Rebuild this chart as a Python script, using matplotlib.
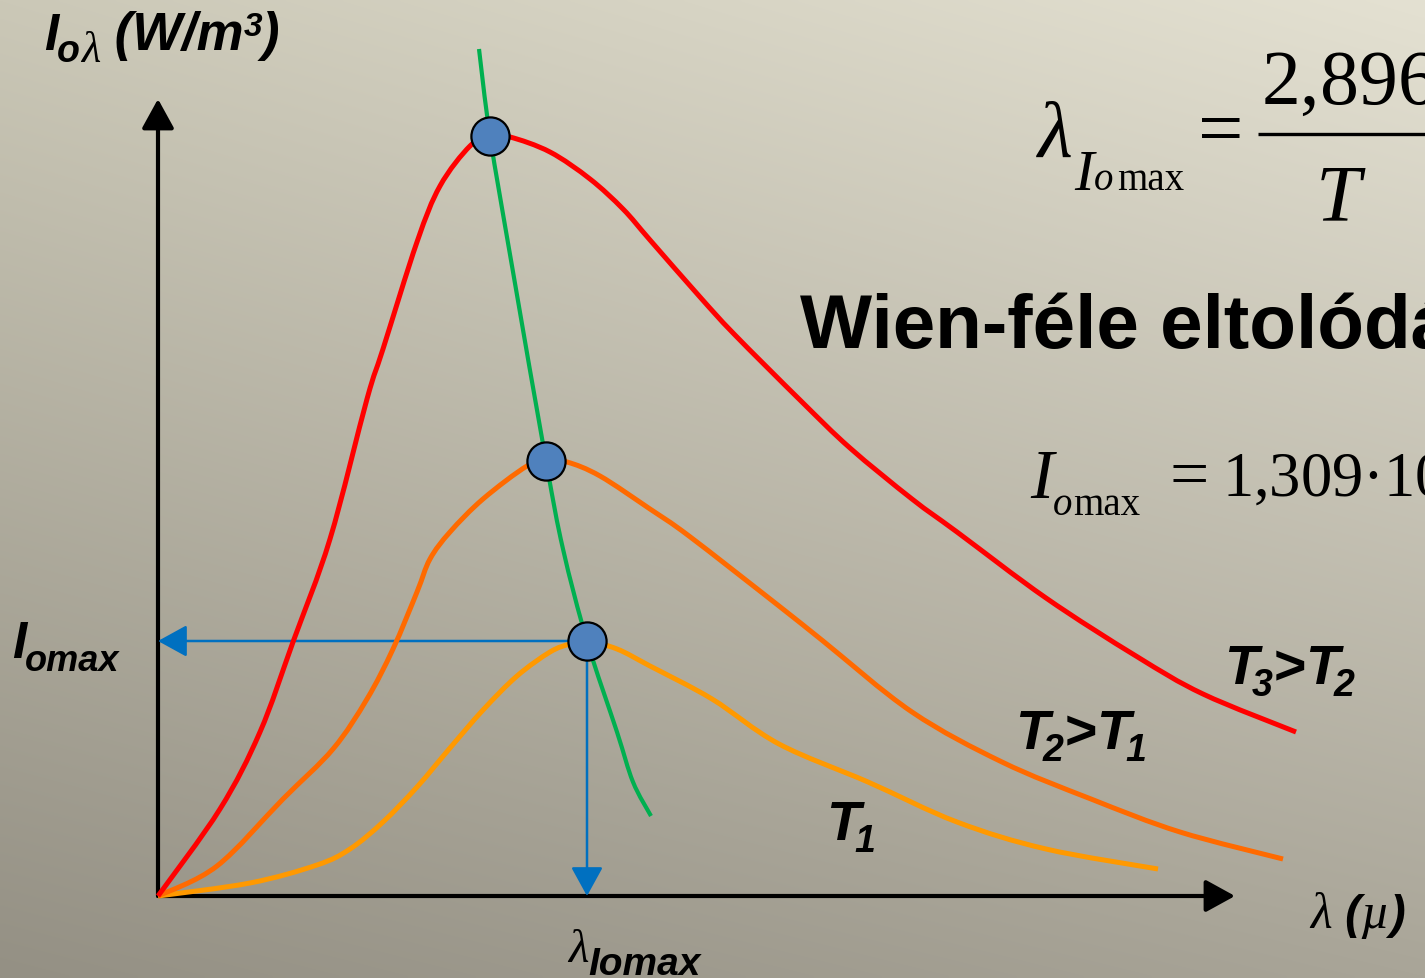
import numpy as np
import matplotlib
matplotlib.use("Agg")
import matplotlib.pyplot as plt
from matplotlib.path import Path
from matplotlib.patches import PathPatch

# ---- spectral curves (wavelength, intensity), arbitrary units ----
t3_lam = [0.00, 0.62, 1.02, 1.35, 1.72, 2.09, 2.25, 2.59, 2.82, 3.12, 3.32, 3.52, 3.92,
          4.32, 4.65, 4.92, 5.42, 5.76, 6.43, 6.92, 7.54, 7.99, 8.88, 9.78, 10.45, 11.38]
t3_int = [0.00, 0.87, 1.64, 2.54, 3.57, 4.97, 5.47, 6.54, 7.10, 7.50, 7.60, 7.59, 7.44,
          7.17, 6.87, 6.56, 5.99, 5.62, 4.95, 4.48, 3.97, 3.64, 2.98, 2.40, 2.02, 1.64]

t2_lam = [0.00, 0.59, 1.25, 1.75, 2.09, 2.35, 2.59, 2.72, 2.92, 3.25, 3.69, 3.89, 4.09,
          4.42, 4.92, 5.31, 6.21, 6.65, 7.54, 8.44, 9.33, 10.22, 11.25]
t2_int = [0.00, 0.30, 0.97, 1.47, 1.97, 2.47, 3.04, 3.37, 3.64, 3.97, 4.30, 4.35, 4.34,
          4.20, 3.87, 3.60, 2.90, 2.55, 1.84, 1.34, 0.97, 0.64, 0.37]

t1_lam = [0.00, 0.92, 1.59, 1.92, 2.25, 2.59, 2.92, 3.25, 3.59, 3.92, 4.12, 4.29, 4.59,
          4.92, 5.54, 6.21, 7.10, 7.99, 8.88, 10.00]
t1_int = [0.00, 0.13, 0.31, 0.47, 0.74, 1.09, 1.48, 1.86, 2.20, 2.44, 2.52, 2.55, 2.47,
          2.30, 1.97, 1.52, 1.14, 0.74, 0.47, 0.27]

# Wien displacement locus through the maxima
wien_lam = [3.21, 3.32, 3.54, 3.88, 4.05, 4.29, 4.59, 4.75, 4.93]
wien_int = [8.47, 7.60, 6.30, 4.35, 3.47, 2.55, 1.64, 1.14, 0.80]

# maxima of the three curves
peak_lam = [3.32, 3.88, 4.29]
peak_int = [7.60, 4.35, 2.55]

W, H = 1425, 979
fig = plt.figure(figsize=(W / 100, H / 100), dpi=100)

# background layer in pixel units
bg = fig.add_axes([0, 0, 1, 1])
bg.set_xlim(0, W)
bg.set_ylim(H, 0)
bg.axis("off")

gx, gy = np.meshgrid(np.linspace(0, 1, 300), np.linspace(0, 1, 220))
tl = np.array([0xCB, 0xC8, 0xB7]) / 255
tr = np.array([0xE4, 0xE1, 0xD2]) / 255
bl = np.array([0x94, 0x90, 0x84]) / 255
br = np.array([0xA9, 0xA5, 0x98]) / 255
grad = ((1 - gx)[..., None] * (1 - gy)[..., None] * tl + gx[..., None] * (1 - gy)[..., None] * tr
        + (1 - gx)[..., None] * gy[..., None] * bl + gx[..., None] * gy[..., None] * br)
bg.imshow(grad, extent=(0, W, H, 0), aspect="auto", interpolation="bilinear", zorder=0)

# chart layer in data units
ax = fig.add_axes([0, 0, 1, 1])
ax.set_xlim(-1.58, 12.67)
ax.set_ylim(-0.82, 8.97)
ax.axis("off")
ax.patch.set_alpha(0)


def smooth(x, y):
    """Smooth Bezier path through the given points (Catmull-Rom style tangents)."""
    p = np.column_stack([x, y]).astype(float)
    ext = np.vstack([p[0], p, p[-1]])
    verts = [p[0]]
    codes = [Path.MOVETO]
    for i in range(len(p) - 1):
        p0, p1, p2, p3 = ext[i], ext[i + 1], ext[i + 2], ext[i + 3]
        c1 = p1 + (p2 - p0) / 6.0
        c2 = p2 - (p3 - p1) / 6.0
        verts += [c1, c2, p2]
        codes += [Path.CURVE4] * 3
    return Path(verts, codes)


def curve(x, y, color, lw, z):
    ax.add_patch(PathPatch(smooth(x, y), fill=False, edgecolor=color, lw=lw,
                           capstyle="butt", joinstyle="round", zorder=z))


# axes with arrow heads
axis_kw = dict(arrowstyle="-|>,head_length=0.4,head_width=0.22", color="black", lw=3,
               shrinkA=0, shrinkB=0, mutation_scale=45)
ax.annotate("", xy=(0, 7.97), xytext=(0, 0), arrowprops=axis_kw, zorder=3)
ax.annotate("", xy=(10.77, 0), xytext=(0, 0), arrowprops=axis_kw, zorder=3)

# guide arrows from the lowest maximum
guide_kw = dict(arrowstyle="-|>,head_length=0.4,head_width=0.22", color="#0070C0", lw=1.8,
                shrinkA=0, shrinkB=0, mutation_scale=45)
ax.annotate("", xy=(0, peak_int[2]), xytext=(peak_lam[2], peak_int[2]), arrowprops=guide_kw, zorder=4)
ax.annotate("", xy=(peak_lam[2], 0), xytext=(peak_lam[2], peak_int[2]), arrowprops=guide_kw, zorder=4)

curve(t1_lam, t1_int, "#FF9900", 3.6, 5)
curve(t2_lam, t2_int, "#FF6A00", 3.6, 5)
curve(t3_lam, t3_int, "#FF0000", 3.6, 5)
curve(wien_lam, wien_int, "#00B050", 3.0, 6)

ax.plot(peak_lam, peak_int, "o", ms=27.5, mfc="#4F81BD", mec="black", mew=1.6, zorder=7)

# ---- text ----
SANS = "Liberation Sans"
SERIF = "Liberation Serif"
renderer = fig.canvas.get_renderer()


def chain(x, y, pieces):
    for s, kw, dx, dy in pieces:
        t = bg.text(x + dx, y + dy, s, ha="left", va="baseline", **kw)
        x = x + dx + t.get_window_extent(renderer).width
    return x


def sbi(size):
    return dict(family=SANS, weight="bold", style="italic", fontsize=size)


def ser(size, style="normal"):
    return dict(family=SERIF, style=style, fontsize=size)


# y-axis label
chain(44, 50, [("I", sbi(37), 0, 0), ("o", sbi(27), -1, 12), ("λ", ser(32, "italic"), 1, 12),
               (" (W/m", sbi(38), 0, 0), ("3", sbi(24), 0, -14), (")", sbi(38), -1, 0)])

# x-axis label
chain(1310, 928, [("λ", ser(36, "italic"), 0, 0), (" (", sbi(34), 0, 0),
                  ("µ", ser(36, "italic"), 0, 0), (")", sbi(34), 0, 0)])

# I_omax and lambda_Iomax
chain(12, 658, [("I", sbi(37), 0, 0), ("omax", sbi(26), -1, 13)])
chain(568, 962, [("λ", ser(34, "italic"), 0, 0), ("Iomax", sbi(28), 0, 13)])

# curve labels
chain(1224, 684, [("T", sbi(40), 0, 0), ("3", sbi(27), -6, 12), (">", sbi(40), 0, 0),
                  ("T", sbi(40), 0, 0), ("2", sbi(27), -5, 12)])
chain(1015, 749, [("T", sbi(40), 0, 0), ("2", sbi(27), -6, 12), (">", sbi(40), 0, 0),
                  ("T", sbi(40), 0, 0), ("1", sbi(27), -5, 12)])
chain(826, 840, [("T", sbi(40), 0, 0), ("1", sbi(27), -5, 12)])

# title
bg.text(800, 348, "Wien-féle eltolódási törvény", family=SANS, weight="bold", fontsize=55,
        ha="left", va="baseline")

# displacement law
chain(1038, 157, [("λ", ser(58, "italic"), 0, 0), ("I", ser(42, "italic"), 1, 33),
                  ("o", ser(28, "italic"), 0, 33), ("max", ser(28), 4, 33)])
bg.text(1198, 155, "=", ha="left", va="baseline", **ser(58))
bg.plot([1258, W + 10], [135, 135], color="black", lw=2.4, solid_capstyle="butt", zorder=3)
bg.text(1261, 105, "2,896·10$^{-3}$", ha="left", va="baseline", **ser(56))
bg.text(1316, 220, "T", ha="left", va="baseline", **ser(58, "italic"))

# maximum intensity law
chain(1030, 498, [("I", ser(50, "italic"), 0, 0), ("o", ser(28, "italic"), 0, 17),
                  ("max", ser(28), 1, 17)])
bg.text(1170, 497, "=", ha="left", va="baseline", **ser(50))
bg.text(1222, 497, "1,309·10$^{-5}$·T$^5$", ha="left", va="baseline", **ser(45))

fig.savefig("out.png", dpi=100)
